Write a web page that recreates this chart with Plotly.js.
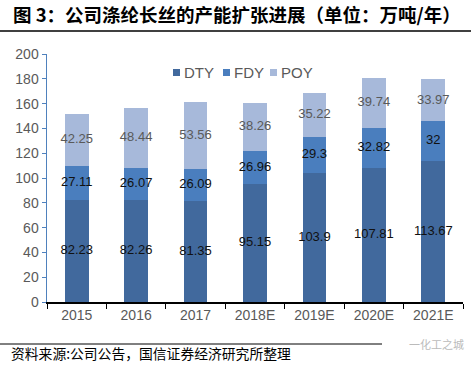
<!DOCTYPE html>
<html><head><meta charset="utf-8">
<script src="https://cdn.plot.ly/plotly-3.0.1.min.js"></script>
<style>html,body{margin:0;padding:0;background:#fff;}#c{width:471px;height:366px;}</style>
</head><body><div id="c"></div>
<script>
const years = ['2015','2016','2017','2018E','2019E','2020E','2021E'];
const dty = [82.23, 82.26, 81.35, 95.15, 103.9, 107.81, 113.67];
const fdy = [27.11, 26.07, 26.09, 26.96, 29.3, 32.82, 32];
const poy = [42.25, 48.44, 53.56, 38.26, 35.22, 39.74, 33.97];
const yTicks = [0,20,40,60,80,100,120,140,160,180,200];
const seriesNames = ['DTY','FDY','POY'];

const cDTY = '#41699D', cFDY = '#4A7EBE', cPOY = '#A7B9DA';
const colors = [cDTY, cFDY, cPOY];
const font = 'Arial, "Liberation Sans", sans-serif';
const cjk = '"Noto Sans CJK SC", sans-serif';

const mid = (base, v) => base.map((b,i)=>b + v[i]/2);
const zero = years.map(()=>0);
const b2 = dty.slice();
const b3 = dty.map((d,i)=>d+fdy[i]);

const bar = (name, y, color) => ({type:'bar', name, x:years, y, marker:{color}, hoverinfo:'none', showlegend:false});
const lab = (base, v, color) => ({type:'scatter', mode:'text', x:years, y:mid(base,v), text:v.map(String),
  textfont:{family:font, size:13, color}, showlegend:false, hoverinfo:'none', cliponaxis:false});

const data = [bar(seriesNames[0], dty, cDTY), bar(seriesNames[1], fdy, cFDY), bar(seriesNames[2], poy, cPOY),
  lab(zero, dty, '#111'), lab(b2, fdy, '#111'), lab(b3, poy, '#595959')];

// pixel -> paper helpers (plot area: x 47..463, y 54..302)
const px = x => (x-47)/416, py = y => (302-y)/248;

// manual compact legend
const legX = [173, 223, 270];
const shapes = [
  {type:'line', xref:'paper', yref:'paper', x0:px(0), x1:px(471), y0:py(31), y1:py(31), line:{color:'#000', width:1.5}},
  {type:'line', xref:'paper', yref:'paper', x0:px(0), x1:px(382), y0:py(344), y1:py(344), line:{color:'#000', width:1}}
];
const annotations = [
  {xref:'paper', yref:'paper', x:px(11), y:py(14), xanchor:'left', yanchor:'middle', showarrow:false,
    text:'<b>图 3：公司涤纶长丝的产能扩张进展（单位：万吨/年）</b>', font:{family:cjk, size:18.5, color:'#000'}},
  {xref:'paper', yref:'paper', x:px(9), y:py(353), xanchor:'left', yanchor:'middle', showarrow:false,
    text:'资料来源:公司公告，国信证券经济研究所整理', font:{family:cjk, size:13.8, color:'#000'}},
  {xref:'paper', yref:'paper', x:px(466), y:py(344), xanchor:'right', yanchor:'middle', showarrow:false,
    text:'一化工之城', font:{family:cjk, size:11, color:'#bbbbbb'}}
];
seriesNames.forEach((n,i)=>{
  shapes.push({type:'rect', xref:'paper', yref:'paper', x0:px(legX[i]), x1:px(legX[i]+7), y0:py(76), y1:py(69),
    fillcolor:colors[i], line:{width:0}});
  annotations.push({xref:'paper', yref:'paper', x:px(legX[i]+9), y:py(72.5), xanchor:'left', yanchor:'middle',
    showarrow:false, text:n, font:{family:font, size:15, color:'#595959'}});
});

const layout = {
  width:471, height:366, margin:{l:47, r:8, t:54, b:64},
  paper_bgcolor:'#fff', plot_bgcolor:'#fff',
  barmode:'stack', bargap:0.6, showlegend:false,
  xaxis:{type:'category', showgrid:false, showline:true, linecolor:'#000', linewidth:1.5,
    ticks:'outside', ticklen:5, tickcolor:'#000', tickson:'boundaries',
    tickfont:{family:font, size:14, color:'#595959'}, fixedrange:true},
  yaxis:{range:[0,200], tickvals:yTicks, showgrid:false, showline:true, linecolor:'#4F81BD', linewidth:1.5,
    ticks:'outside', ticklen:4, tickcolor:'#4F81BD', zeroline:false,
    tickfont:{family:font, size:14, color:'#595959'}, fixedrange:true},
  shapes, annotations
};
Plotly.newPlot('c', data, layout, {staticPlot:true, displayModeBar:false});
</script></body></html>
